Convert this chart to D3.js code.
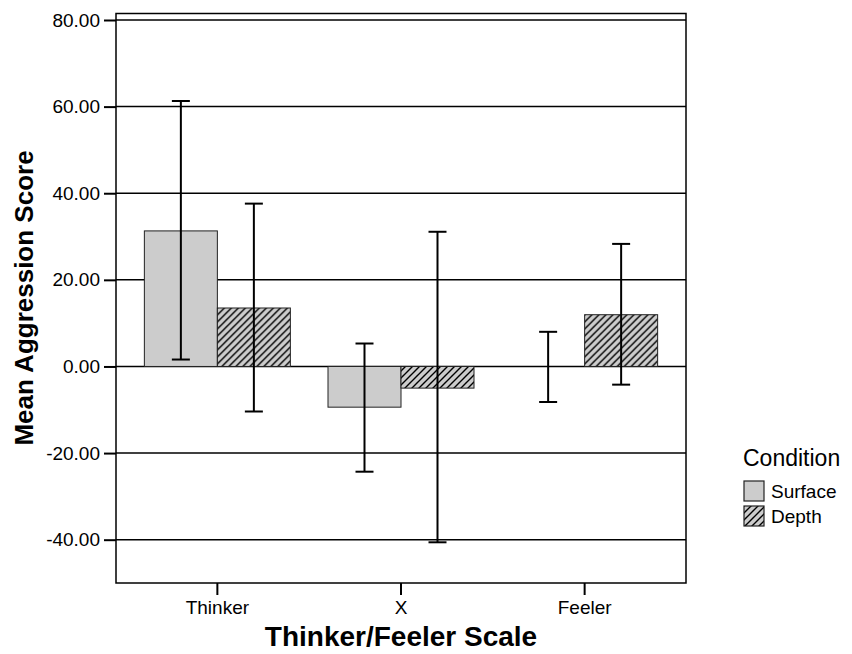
<!DOCTYPE html>
<html><head><meta charset="utf-8">
<script src="https://cdn.jsdelivr.net/npm/d3@7"></script>
<style>body{margin:0;background:#fff}svg{display:block}text{font-family:"Liberation Sans",Arial,Helvetica,sans-serif}</style>
</head><body>
<script>
const categories = ["Thinker", "X", "Feeler"];
const conditions = ["Surface", "Depth"];
const surfaceMean = [31.3, -9.4, 0.0];
const depthMean = [13.5, -5.0, 11.95];
const surfaceLow = [1.6, -24.3, -8.2];
const surfaceHigh = [61.3, 5.3, 8.0];
const depthLow = [-10.4, -40.6, -4.2];
const depthHigh = [37.6, 31.1, 28.3];
const yTicks = [-40, -20, 0, 20, 40, 60, 80];

const W = 852, H = 654;
const L = 116, R = 686, T = 13.5, B = 583;
const svg = d3.select("body").append("svg").attr("width", W).attr("height", H);

const defs = svg.append("defs");
const pat = defs.append("pattern").attr("id", "hatch").attr("patternUnits", "userSpaceOnUse")
  .attr("width", 7).attr("height", 7);
pat.append("rect").attr("width", 7).attr("height", 7).attr("fill", "#cccccc");
pat.append("path").attr("d", "M-1,8 L8,-1 M-1,1 L1,-1 M6,8 L8,6")
  .attr("stroke", "#000").attr("stroke-width", 1.4);

const y = d3.scaleLinear().domain([-50, 81.5]).range([B, T]);
const x = d3.scaleBand().domain(categories).range([L, R]).paddingInner(0).paddingOuter(0.052);
const xs = d3.scaleBand().domain(conditions).range([-73, 73]);

const data = categories.map((c, i) => ({
  c,
  vals: [
    {k: "Surface", m: surfaceMean[i], lo: surfaceLow[i], hi: surfaceHigh[i]},
    {k: "Depth", m: depthMean[i], lo: depthLow[i], hi: depthHigh[i]}
  ]
}));

// gridlines
svg.append("g").selectAll("line").data(yTicks).join("line")
  .attr("x1", L).attr("x2", R).attr("y1", d => y(d)).attr("y2", d => y(d))
  .attr("stroke", "#000").attr("stroke-width", 1.5);

// bars
const g = svg.append("g").selectAll("g").data(data).join("g")
  .attr("transform", d => `translate(${x(d.c) + x.bandwidth() / 2},0)`);
g.selectAll("rect").data(d => d.vals).join("rect")
  .attr("x", d => xs(d.k)).attr("width", xs.bandwidth())
  .attr("y", d => y(Math.max(0, d.m))).attr("height", d => Math.abs(y(d.m) - y(0)))
  .attr("fill", d => d.k === "Surface" ? "#cccccc" : "url(#hatch)")
  .attr("stroke", "#222").attr("stroke-width", 1);

// error bars
const eb = g.selectAll("g.eb").data(d => d.vals).join("g").attr("class", "eb")
  .attr("transform", d => `translate(${xs(d.k) + xs.bandwidth() / 2},0)`);
eb.append("line").attr("x1", 0).attr("x2", 0).attr("y1", d => y(d.lo)).attr("y2", d => y(d.hi))
  .attr("stroke", "#000").attr("stroke-width", 2);
eb.append("line").attr("x1", -9).attr("x2", 9).attr("y1", d => y(d.hi)).attr("y2", d => y(d.hi))
  .attr("stroke", "#000").attr("stroke-width", 2);
eb.append("line").attr("x1", -9).attr("x2", 9).attr("y1", d => y(d.lo)).attr("y2", d => y(d.lo))
  .attr("stroke", "#000").attr("stroke-width", 2);

// frame
svg.append("rect").attr("x", L).attr("y", T).attr("width", R - L).attr("height", B - T)
  .attr("fill", "none").attr("stroke", "#000").attr("stroke-width", 1.5);

// y axis
const ya = svg.append("g").attr("transform", `translate(${L},0)`)
  .call(d3.axisLeft(y).tickValues(yTicks).tickSize(12).tickPadding(4).tickFormat(d => d.toFixed(2)));
ya.select(".domain").remove();
ya.selectAll(".tick line").attr("stroke", "#000").attr("stroke-width", 2);
ya.selectAll(".tick text").attr("font-size", 19).attr("fill", "#000")
  .attr("font-family", '"Liberation Sans",Arial,sans-serif');

// x axis
const xa = svg.append("g").attr("transform", `translate(0,${B})`)
  .call(d3.axisBottom(x).tickSize(12).tickPadding(6));
xa.select(".domain").remove();
xa.selectAll(".tick line").attr("stroke", "#000").attr("stroke-width", 2);
xa.selectAll(".tick text").attr("font-size", 19).attr("fill", "#000")
  .attr("font-family", '"Liberation Sans",Arial,sans-serif');

// titles
svg.append("text").attr("x", 401).attr("y", 646).attr("text-anchor", "middle")
  .attr("font-size", 28).attr("font-weight", "bold").text("Thinker/Feeler Scale");
svg.append("text").attr("transform", "translate(33,298) rotate(-90)").attr("text-anchor", "middle")
  .attr("font-size", 26).attr("font-weight", "bold").text("Mean Aggression Score");

// legend
const lg = svg.append("g");
lg.append("text").attr("x", 743).attr("y", 466).attr("font-size", 23).text("Condition");
const li = lg.selectAll("g").data(conditions).join("g")
  .attr("transform", (d, i) => `translate(744,${481 + i * 25})`);
li.append("rect").attr("width", 20).attr("height", 20)
  .attr("fill", d => d === "Surface" ? "#cccccc" : "url(#hatch)").attr("stroke", "#222").attr("stroke-width", 1.2);
li.append("text").attr("x", 27).attr("y", 17).attr("font-size", 19).text(d => d);
</script>
</body></html>
